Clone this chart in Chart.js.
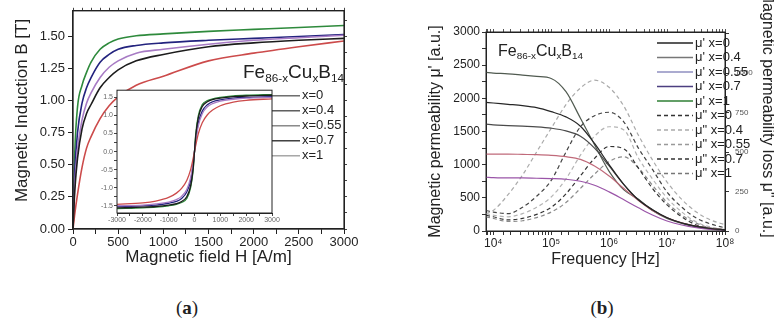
<!DOCTYPE html>
<html lang="en">
<head>
<meta charset="UTF-8">
<title>Fe86-xCuxB14 magnetic properties</title>
<style>
    html, body {
        margin: 0;
        padding: 0;
        background: #fff;
        width: 774px;
        height: 325px;
        overflow: hidden;
        position: relative;
        font-family: "Liberation Sans", Arial, sans-serif;
        color: #222;
    }
    canvas { position: absolute; }
    #bh { left: 0; top: 0; }
    #loop { left: 85px; top: 85px; }
    #perm { left: 420px; top: 0; }
    .formula {
        position: absolute;
        line-height: 1;
        white-space: nowrap;
        color: #222;
    }
    .formula sub { font-size: 0.62em; vertical-align: -0.32em; line-height: 1; }
    .panel {
        position: absolute;
        width: 40px;
        text-align: center;
        font-family: "Liberation Serif", "Times New Roman", serif;
        font-size: 19px;
        line-height: 1;
    }
</style>
<script src="https://cdn.jsdelivr.net/npm/chart.js"></script>
</head>
<body>
<canvas id="bh" width="360" height="275"></canvas>
<canvas id="loop" width="195" height="140"></canvas>
<canvas id="perm" width="360" height="275"></canvas>

<div class="formula" style="left:243px; top:62px; font-size:19px;">Fe<sub>86-x</sub>Cu<sub>x</sub>B<sub>14</sub></div>
<div class="formula" style="left:498px; top:43px; font-size:16px;">Fe<sub>86-x</sub>Cu<sub>x</sub>B<sub>14</sub></div>
<div class="panel" style="left:167px; top:298px;">(<b>a</b>)</div>
<div class="panel" style="left:582px; top:298px;">(<b>b</b>)</div>

<script>
// ---------- data ----------
const compositions = ['x=0', 'x=0.4', 'x=0.55', 'x=0.7', 'x=1'];

// (a) initial magnetisation curves, H in A/m, B in T
const fieldH = [0, 20, 50, 100, 150, 200, 300, 400, 500, 700, 1000, 1500, 2000, 2500, 3000];
const bX0   = [0, 0.30, 0.55, 0.78, 0.90, 0.97, 1.10, 1.18, 1.24, 1.31, 1.36, 1.42, 1.45, 1.47, 1.485];
const bX04  = [0, 0.12, 0.27, 0.48, 0.63, 0.72, 0.86, 0.96, 1.03, 1.12, 1.19, 1.31, 1.37, 1.42, 1.465];
const bX055 = [0, 0.35, 0.62, 0.85, 0.98, 1.06, 1.18, 1.26, 1.31, 1.37, 1.40, 1.44, 1.47, 1.49, 1.51];
const bX07  = [0, 0.45, 0.75, 0.98, 1.10, 1.18, 1.30, 1.36, 1.40, 1.43, 1.45, 1.47, 1.485, 1.50, 1.515];
const bX1   = [0, 0.60, 0.95, 1.12, 1.22, 1.30, 1.40, 1.45, 1.48, 1.505, 1.52, 1.54, 1.555, 1.57, 1.585];

// (a) inset: hysteresis loops
const loopH = [-3000, -2000, -1500, -1000, -700, -500, -300, -150, -50, 0, 50, 150, 300, 500, 700, 1000, 1500, 2000, 3000];
const loopX0   = [-1.56, -1.54, -1.52, -1.48, -1.44, -1.38, -1.25, -0.95, -0.45, 0, 0.45, 0.95, 1.25, 1.38, 1.44, 1.48, 1.52, 1.54, 1.56];
const loopX04  = [-1.46, -1.42, -1.37, -1.27, -1.15, -1.02, -0.80, -0.50, -0.18, 0, 0.18, 0.50, 0.80, 1.02, 1.15, 1.27, 1.37, 1.42, 1.46];
const loopX055 = [-1.50, -1.48, -1.45, -1.40, -1.33, -1.24, -1.05, -0.72, -0.30, 0, 0.30, 0.72, 1.05, 1.24, 1.33, 1.40, 1.45, 1.48, 1.50];
const loopX07  = [-1.52, -1.50, -1.48, -1.43, -1.38, -1.30, -1.12, -0.80, -0.35, 0, 0.35, 0.80, 1.12, 1.30, 1.38, 1.43, 1.48, 1.50, 1.52];
const loopX1   = [-1.58, -1.56, -1.54, -1.50, -1.46, -1.41, -1.30, -1.00, -0.50, 0, 0.50, 1.00, 1.30, 1.41, 1.46, 1.50, 1.54, 1.56, 1.58];

// (b) permeability spectra, frequency in Hz
const freq = [7500, 1e4, 1.8e4, 3.2e4, 5.6e4, 1e5, 1.8e5, 3.2e5, 5.6e5, 1e6, 1.8e6, 3.2e6, 5.6e6, 1e7, 1.8e7, 3.2e7, 5.6e7, 1e8];
const muRealX0   = [1940, 1930, 1910, 1890, 1860, 1800, 1720, 1580, 1320, 1000, 700, 470, 320, 200, 120, 70, 38, 18];
const muRealX04  = [1610, 1600, 1590, 1580, 1570, 1550, 1510, 1430, 1250, 980, 700, 470, 320, 200, 120, 70, 38, 18];
const muRealX055 = [1160, 1160, 1160, 1155, 1150, 1140, 1120, 1080, 980, 830, 640, 460, 310, 200, 125, 75, 40, 20];
const muRealX07  = [810, 805, 800, 800, 795, 790, 780, 750, 690, 590, 470, 350, 240, 150, 90, 50, 25, 12];
const muRealX1   = [2390, 2380, 2370, 2350, 2330, 2300, 2100, 1700, 1300, 900, 620, 480, 310, 190, 115, 60, 30, 15];

const muLossX0   = [130, 120, 110, 150, 220, 320, 500, 660, 730, 752, 690, 525, 390, 247, 150, 82, 45, 20];
const muLossX04  = [110, 130, 230, 354, 500, 650, 800, 905, 955, 910, 790, 607, 450, 310, 200, 120, 70, 40];
const muLossX055 = [110, 100, 90, 110, 150, 215, 330, 480, 600, 660, 640, 462, 330, 209, 120, 57, 25, 10];
const muLossX07  = [100, 90, 70, 80, 105, 150, 235, 350, 460, 535, 520, 398, 270, 165, 90, 38, 15, 5];
const muLossX1   = [90, 80, 60, 65, 85, 120, 180, 270, 360, 440, 470, 400, 290, 180, 100, 50, 20, 8];

// tick values of the loss axis
const lossTicks = [0, 250, 500, 750, 1000, 1250];

// ---------- helpers ----------
Chart.defaults.font.family = '"Liberation Sans", Arial, sans-serif';
Chart.defaults.color = '#222';

function points(xs, ys) {
    return xs.map((x, i) => ({ x: x, y: ys[i] }));
}

// box around the plot area, optional white fill (for the inset)
const frame = {
    id: 'frame',
    beforeDatasetsDraw(chart, args, opts) {
        if (!opts.fill) return;
        const a = chart.chartArea;
        chart.ctx.save();
        chart.ctx.fillStyle = '#fff';
        chart.ctx.fillRect(a.left, a.top, a.right - a.left, a.bottom - a.top);
        chart.ctx.restore();
    },
    afterDraw(chart, args, opts) {
        const a = chart.chartArea;
        const ctx = chart.ctx;
        ctx.save();
        ctx.strokeStyle = '#222';
        ctx.lineWidth = opts.width || 1;
        ctx.strokeRect(a.left, a.top, a.right - a.left, a.bottom - a.top);
        ctx.restore();
    }
};

// legend drawn inside the plot, next to the right border
const keyLegend = {
    id: 'keyLegend',
    afterDatasetsDraw(chart, args, o) {
        if (!o.show) return;
        const { ctx, chartArea } = chart;
        ctx.save();
        ctx.font = o.font;
        ctx.fillStyle = '#222';
        ctx.textBaseline = 'middle';
        chart.data.datasets.forEach((ds, i) => {
            const y = chartArea.top + o.top + i * o.step;
            const x0 = chartArea.right + o.left;
            ctx.strokeStyle = o.colors ? o.colors[i] : ds.borderColor;
            ctx.lineWidth = o.lineWidth || ds.borderWidth;
            ctx.setLineDash(ds.borderDash || []);
            ctx.beginPath();
            ctx.moveTo(x0, y);
            ctx.lineTo(x0 + o.len, y);
            ctx.stroke();
            ctx.setLineDash([]);
            ctx.fillText(ds.label, x0 + o.len + o.gap, y);
        });
        ctx.restore();
    }
};

function line(label, data, color, width, dash, axis) {
    return {
        label: label,
        data: data,
        borderColor: color,
        borderWidth: width,
        borderDash: dash || [],
        pointRadius: 0,
        fill: false,
        cubicInterpolationMode: 'monotone',
        yAxisID: axis || 'y'
    };
}

const curveColors = ['#1c1c1c', '#cc4b4b', '#a77bc4', '#23237e', '#2e8a3c'];

// ---------- (a) main B(H) ----------
new Chart(document.getElementById('bh'), {
    type: 'line',
    data: {
        datasets: [bX0, bX04, bX055, bX07, bX1].map((b, i) =>
            line(compositions[i], points(fieldH, b), curveColors[i], 1.6))
    },
    options: {
        responsive: false,
        animation: false,
        layout: { padding: 0 },
        plugins: {
            legend: { display: false },
            tooltip: { enabled: false },
            frame: { width: 1.2 },
            keyLegend: {
                show: true, left: -73, top: 85, step: 15, len: 29, gap: 2,
                font: '13px "Liberation Sans", Arial, sans-serif', lineWidth: 1.3,
                colors: ['#555', '#444', '#777', '#222', '#999']
            }
        },
        scales: {
            x: {
                type: 'linear', min: 0, max: 3000,
                afterFit: s => { s.height = 46; },
                ticks: {
                    stepSize: 250, autoSkip: false, maxRotation: 0, padding: 1,
                    font: { size: 13 },
                    callback: v => (v % 500 === 0 ? v : '')
                },
                grid: { drawOnChartArea: false, tickLength: 5, color: '#222' },
                border: { color: '#222', width: 1.2 },
                title: { display: true, text: 'Magnetic field H [A/m]', font: { size: 17 }, padding: { top: 0, bottom: 7 } }
            },
            x2: {
                type: 'linear', position: 'top', min: 0, max: 3000,
                afterFit: s => { s.height = 10; },
                ticks: { display: false, stepSize: 100 },
                grid: { drawOnChartArea: false, tickLength: 3, color: '#444' },
                border: { color: '#222' }
            },
            y: {
                min: 0, max: 1.7,
                afterFit: s => { s.width = 73; },
                ticks: {
                    stepSize: 0.25, includeBounds: false, padding: 3,
                    font: { size: 13 },
                    callback: v => v.toFixed(2)
                },
                grid: { drawOnChartArea: false, tickLength: 5, color: '#222' },
                border: { color: '#222', width: 1.2 },
                title: { display: true, text: '    Magnetic Induction B [T]', font: { size: 17 }, padding: { top: 12, bottom: 0 } }
            },
            y2: {
                position: 'right', min: 0, max: 1.7,
                afterFit: s => { s.width = 16; },
                ticks: { display: false, stepSize: 0.125, includeBounds: false },
                grid: { drawOnChartArea: false, tickLength: 3, color: '#444' },
                border: { color: '#222' }
            }
        }
    },
    plugins: [frame, keyLegend]
});

// ---------- (a) inset loops ----------
new Chart(document.getElementById('loop'), {
    type: 'line',
    data: {
        datasets: [loopX0, loopX04, loopX055, loopX07, loopX1].map((b, i) =>
            line(compositions[i], points(loopH, b), curveColors[i], 1.3))
    },
    options: {
        responsive: false,
        animation: false,
        layout: { padding: { top: 5, right: 8, left: 0, bottom: 0 } },
        plugins: {
            legend: { display: false },
            tooltip: { enabled: false },
            frame: { fill: true, width: 1 },
            keyLegend: { show: false }
        },
        scales: {
            x: {
                type: 'linear', min: -3000, max: 3000,
                afterFit: s => { s.height = 12; },
                ticks: {
                    stepSize: 500, autoSkip: false, maxRotation: 0, padding: 0,
                    font: { size: 7 }, color: '#666',
                    callback: v => (v % 1000 === 0 ? v : '')
                },
                grid: { drawOnChartArea: false, tickLength: 3, color: '#444' },
                border: { color: '#222' }
            },
            y: {
                min: -1.7, max: 1.7,
                afterFit: s => { s.width = 32; },
                ticks: {
                    stepSize: 0.25, includeBounds: false, autoSkip: false, padding: 1,
                    font: { size: 7 }, color: '#666',
                    callback: v => (Math.abs(v * 2 - Math.round(v * 2)) < 1e-6 ? v.toFixed(1) : '')
                },
                grid: { drawOnChartArea: false, tickLength: 3, color: '#444' },
                border: { color: '#222' }
            }
        }
    },
    plugins: [frame, keyLegend]
});

// ---------- (b) permeability spectra ----------
const sup = ['\u2070', '\u00b9', '\u00b2', '\u00b3', '\u2074', '\u2075', '\u2076', '\u2077', '\u2078'];
function decadeLabel(v) {
    const e = Math.log10(v);
    return Math.abs(e - Math.round(e)) < 1e-9 ? '10' + sup[Math.round(e)] : '';
}

const realSeries = [muRealX0, muRealX04, muRealX055, muRealX07, muRealX1];
const lossSeries = [muLossX0, muLossX04, muLossX055, muLossX07, muLossX1];
const realColors = ['#262626', '#4a4a4a', '#c06a7a', '#9a55a8', '#505a50'];
const lossColors = ['#444', '#aaa', '#b4b4b4', '#333', '#8a8a8a'];

const permSets = [];
realSeries.forEach((s, i) => permSets.push(line("\u03bc' " + compositions[i], points(freq, s), realColors[i], 1.2)));
lossSeries.forEach((s, i) => permSets.push(line('\u03bc" ' + compositions[i], points(freq, s), lossColors[i], 1.2, [4, 3], 'y1')));

new Chart(document.getElementById('perm'), {
    type: 'line',
    data: { datasets: permSets },
    options: {
        responsive: false,
        animation: false,
        layout: { padding: 0 },
        plugins: {
            legend: { display: false },
            tooltip: { enabled: false },
            frame: { width: 1 },
            keyLegend: {
                show: true, left: -68, top: 11, step: 14.5, len: 36, gap: 2,
                font: '13px "Liberation Sans", Arial, sans-serif', lineWidth: 1.4,
                colors: ['#222', '#777', '#8f8fc0', '#4b3f80', '#2f7f35', '#333', '#aaa', '#999', '#333', '#777']
            }
        },
        scales: {
            x: {
                type: 'logarithmic', min: 7500, max: 1e8,
                afterFit: s => { s.height = 44; },
                ticks: {
                    autoSkip: false, maxRotation: 0, padding: 1,
                    font: { size: 12 },
                    callback: decadeLabel
                },
                grid: { drawOnChartArea: false, tickLength: 4, color: '#333' },
                border: { color: '#222' },
                title: { display: true, text: 'Frequency [Hz]', font: { size: 16 }, padding: { top: 0, bottom: 6 } }
            },
            x2: {
                type: 'logarithmic', position: 'top', min: 7500, max: 1e8,
                afterFit: s => { s.height = 32; },
                ticks: { display: false, autoSkip: false },
                grid: { drawOnChartArea: false, tickLength: 3, color: '#555' },
                border: { color: '#222' }
            },
            y: {
                min: 0, max: 3000,
                afterFit: s => { s.width = 66; },
                ticks: {
                    stepSize: 250, autoSkip: false, padding: 2,
                    font: { size: 12 },
                    callback: v => (v % 500 === 0 ? v : '')
                },
                grid: { drawOnChartArea: false, tickLength: 4, color: '#333' },
                border: { color: '#222' },
                title: { display: true, text: "Magnetic permeability \u03bc' [a.u.]", font: { size: 16 }, padding: { top: 6, bottom: 0 } }
            },
            y1: {
                position: 'right', min: 0, max: 1260,
                afterFit: s => { s.width = 55; },
                afterBuildTicks: s => { s.ticks = lossTicks.map(v => ({ value: v })); },
                ticks: {
                    autoSkip: false, padding: 6,
                    font: { size: 8 }, color: '#555',
                    callback: v => (v <= 1000 ? v : '')
                },
                grid: { drawOnChartArea: false, tickLength: 4, color: '#333' },
                border: { color: '#222' },
                title: { display: true, text: 'Magnetic permeability loss \u03bc" [a.u.]        ', font: { size: 16 }, padding: { top: 3, bottom: 0 } }
            }
        }
    },
    plugins: [frame, keyLegend]
});
</script>
</body>
</html>
